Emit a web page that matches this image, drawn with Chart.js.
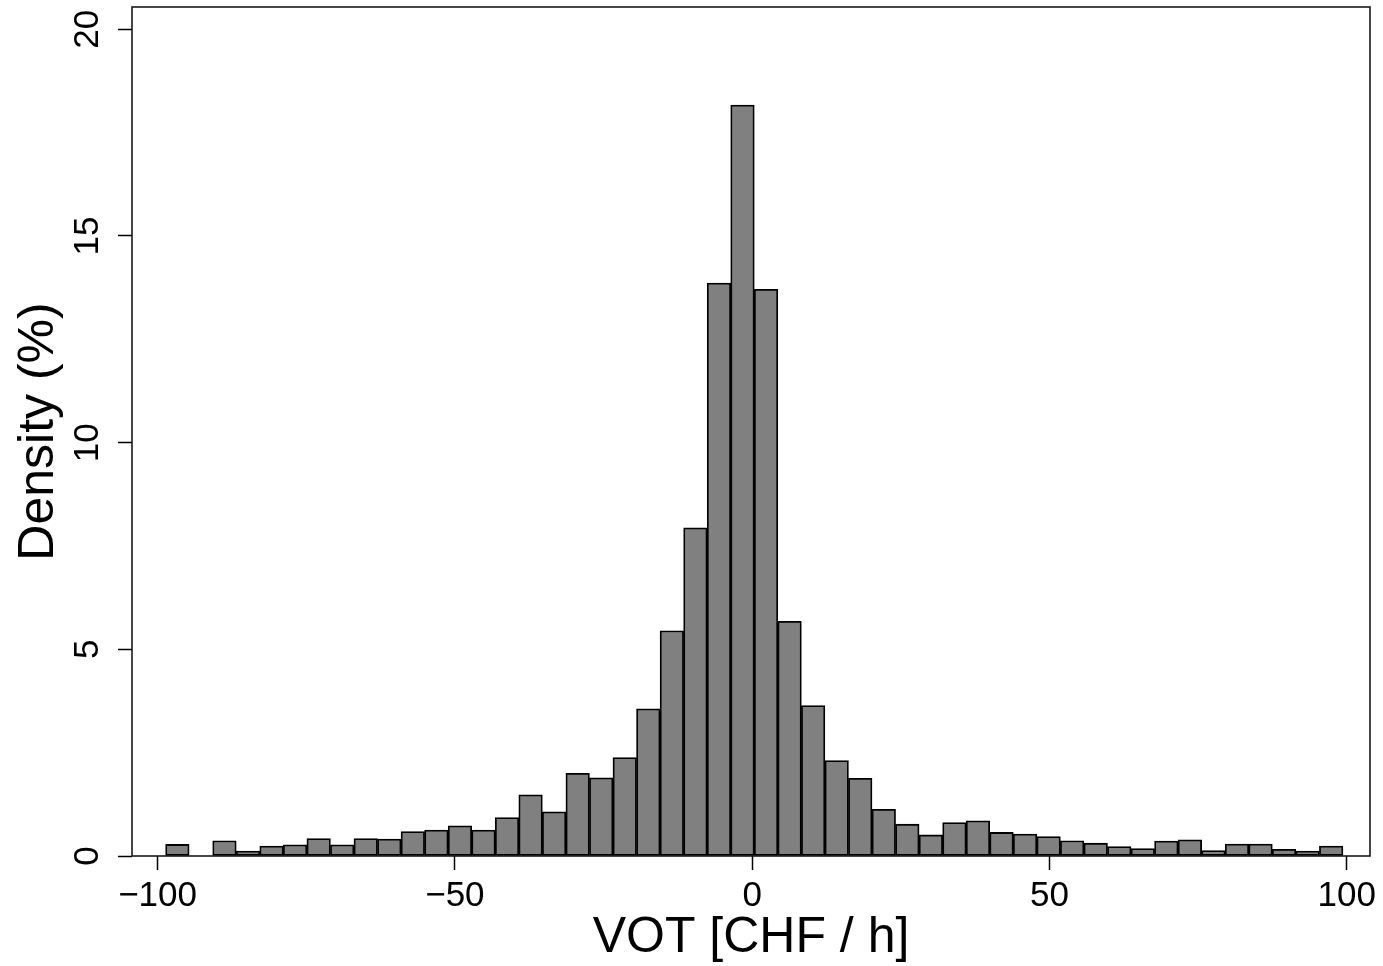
<!DOCTYPE html>
<html><head><meta charset="utf-8">
<script src="https://cdn.jsdelivr.net/npm/chart.js@4.4.1/dist/chart.umd.min.js"></script>
<style>html,body{margin:0;padding:0;background:#fff;overflow:hidden}canvas{display:block}</style>
</head><body>
<canvas id="c" width="1383" height="966"></canvas>
<script>
// Histogram bin centres (VOT, CHF/h), bin width ~3.96
const binCenters = [
  -96.67, -92.71, -88.75, -84.79, -80.83, -76.87, -72.91, -68.95, -64.99, -61.03,
  -57.07, -53.11, -49.15, -45.19, -41.23, -37.27, -33.31, -29.35, -25.39, -21.43,
  -17.47, -13.51,  -9.55,  -5.59,  -1.63,   2.33,   6.29,  10.25,  14.21,  18.17,
   22.13,  26.09,  30.05,  34.01,  37.97,  41.93,  45.89,  49.85,  53.81,  57.77,
   61.73,  65.69,  69.65,  73.61,  77.57,  81.53,  85.49,  89.45,  93.41,  97.37
];
// Density (%) per bin
const densityPct = [
  0.28, 0.00, 0.37, 0.12, 0.24, 0.27, 0.42, 0.27, 0.42, 0.41,
  0.59, 0.63, 0.73, 0.63, 0.93, 1.48, 1.07, 2.00, 1.89, 2.38,
  3.56, 5.45, 7.94, 13.86, 18.17, 13.71, 5.68, 3.64, 2.31, 1.88,
  1.13, 0.77, 0.51, 0.81, 0.85, 0.57, 0.53, 0.47, 0.37, 0.31,
  0.23, 0.18, 0.36, 0.39, 0.13, 0.29, 0.29, 0.16, 0.12, 0.24
];
const xTickValues = [-100, -50, 0, 50, 100];
const yTickValues = [0, 5, 10, 15, 20];
const xTitle = 'VOT [CHF / h]';
const yTitle = 'Density (%)';

const FONT = '"Liberation Sans", Arial, Helvetica, sans-serif';
const fmt = v => (v < 0 ? '\u2212' + Math.abs(v) : String(v));

const framePlugin = {
  id: 'frame',
  beforeDatasetsDraw(chart) {
    const {ctx, chartArea: a} = chart;
    ctx.save();
    ctx.strokeStyle = '#1a1a1a';
    ctx.lineWidth = 1.6;
    ctx.strokeRect(a.left, a.top, a.right - a.left, a.bottom - a.top);
    ctx.restore();
  }
};

new Chart(document.getElementById('c'), {
  type: 'bar',
  data: {
    datasets: [{
      data: binCenters.map((x, i) => ({x: x, y: densityPct[i] === 0 ? null : densityPct[i]})),
      backgroundColor: '#808080',
      borderColor: '#000',
      borderWidth: 1.8,
      borderSkipped: false,
      barPercentage: 1,
      categoryPercentage: 1
    }]
  },
  options: {
    responsive: false,
    animation: false,
    devicePixelRatio: 1,
    layout: {padding: {top: 7, right: 13, left: 0, bottom: 0}},
    plugins: {legend: {display: false}, tooltip: {enabled: false}},
    scales: {
      x: {
        type: 'linear',
        min: -104.3, max: 103.9,
        offset: false,
        afterBuildTicks: s => { s.ticks = xTickValues.map(v => ({value: v})); },
        afterFit: s => { s.height = 110; s.paddingLeft = 0; s.paddingRight = 0; },
        grid: {display: true, offset: false, drawOnChartArea: false, drawTicks: true, tickLength: 14, tickColor: '#000', tickWidth: 1.5},
        border: {display: false},
        ticks: {autoSkip: false, maxRotation: 0, minRotation: 0, padding: 5, color: '#000',
                font: {family: FONT, size: 35}, callback: v => fmt(v)},
        title: {display: true, text: xTitle, color: '#000', font: {family: FONT, size: 50, lineHeight: 1.1}, padding: 0}
      },
      y: {
        type: 'linear',
        min: 0, max: 20.54,
        afterBuildTicks: s => { s.ticks = yTickValues.map(v => ({value: v})); },
        afterFit: s => { s.width = 132; s.paddingTop = 0; s.paddingBottom = 0; },
        grid: {display: true, drawOnChartArea: false, drawTicks: true, tickLength: 14, tickColor: '#000', tickWidth: 1.5},
        border: {display: false},
        ticks: {autoSkip: false, minRotation: 90, maxRotation: 90, crossAlign: 'center', padding: 10, color: '#000',
                font: {family: FONT, size: 35}, callback: v => fmt(v)},
        title: {display: true, text: yTitle, color: '#000', font: {family: FONT, size: 50, lineHeight: 1.1}, padding: {top: 12, bottom: 0}}
      }
    }
  },
  plugins: [framePlugin]
});
</script>
</body></html>
